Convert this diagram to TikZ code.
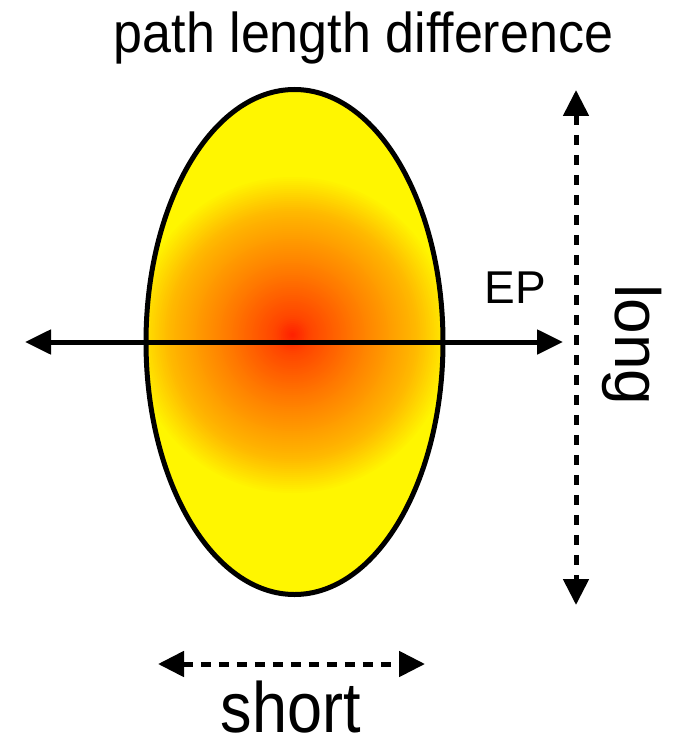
\documentclass[tikz,border=0pt]{standalone}
\usepackage{fontspec}
\setmainfont{Liberation Sans}
\usepackage{graphicx}
\usetikzlibrary{arrows.meta,shapes.geometric,calc}
\definecolor{yl}{RGB}{255,246,0}
\tikzset{
  arr/.style={line width=5pt, {Triangle[length=26pt,width=24pt]}-{Triangle[length=26pt,width=24pt]}},
  dasharr/.style={line width=5pt, dash pattern=on 10pt off 9pt, {Triangle[length=26pt,width=25pt]}-{Triangle[length=26pt,width=25pt]}},
  lbl/.style={inner sep=0pt, anchor=base, text=black},
  oval/.style={ellipse, draw=black, line width=5pt, fill=yl, inner sep=0pt, minimum width=297pt, minimum height=505pt}
}
\begin{document}
\begin{tikzpicture}[x=1pt,y=-1pt]
\useasboundingbox (0,0) rectangle (684,749);
\fill[white] (0,0) rectangle (684,749);
% ellipse with glow
\node[oval, path picture={
  \coordinate (gc) at ([shift={(-2,-7)}]path picture bounding box.center);
  \foreach \r in {162,160,...,2}{
    \pgfmathsetmacro\t{\r/160}
    \pgfmathtruncatemacro\g{ifthenelse(\t<0.12, 30+\t/0.12*40, ifthenelse(\t<0.42, 70+(\t-0.12)/0.3*55, ifthenelse(\t<0.78, 125+(\t-0.42)/0.36*60, min(246,185+(\t-0.78)/0.22*61))))}
    \definecolor{tmpc}{RGB}{255,\g,0}
    \fill[tmpc] (gc) circle[radius=\r];
  }
}] (body) at (294.5,342) {};
% horizontal arrow
\coordinate (hL) at (25,342);
\coordinate (hR) at (563,342);
\draw[arr] (hL) -- (hR);
% vertical dashed arrow
\coordinate (vT) at (576,90);
\coordinate (vB) at (576,605);
\draw[dasharr, dash pattern=on 10pt off 10pt] (vT) -- (vB);
% short dashed arrow
\coordinate (sL) at (158,664);
\coordinate (sR) at (425,664);
\draw[dasharr, dash pattern=on 10pt off 8pt] (sL) -- (sR);
% labels
\node[lbl, font=\fontsize{52}{60}\selectfont] (title) at (363.5,53) {\scalebox{1}[1.08]{path length difference}};
\node[lbl, font=\fontsize{46}{54}\selectfont] (ep) at (515,303) {EP};
\node[lbl, font=\fontsize{64}{72}\selectfont, rotate=-90] (long) at (615,345) {long};
\node[lbl, font=\fontsize{63}{72}\selectfont] (short) at (291,732) {\scalebox{1}[1.13]{short}};
\end{tikzpicture}
\end{document}
